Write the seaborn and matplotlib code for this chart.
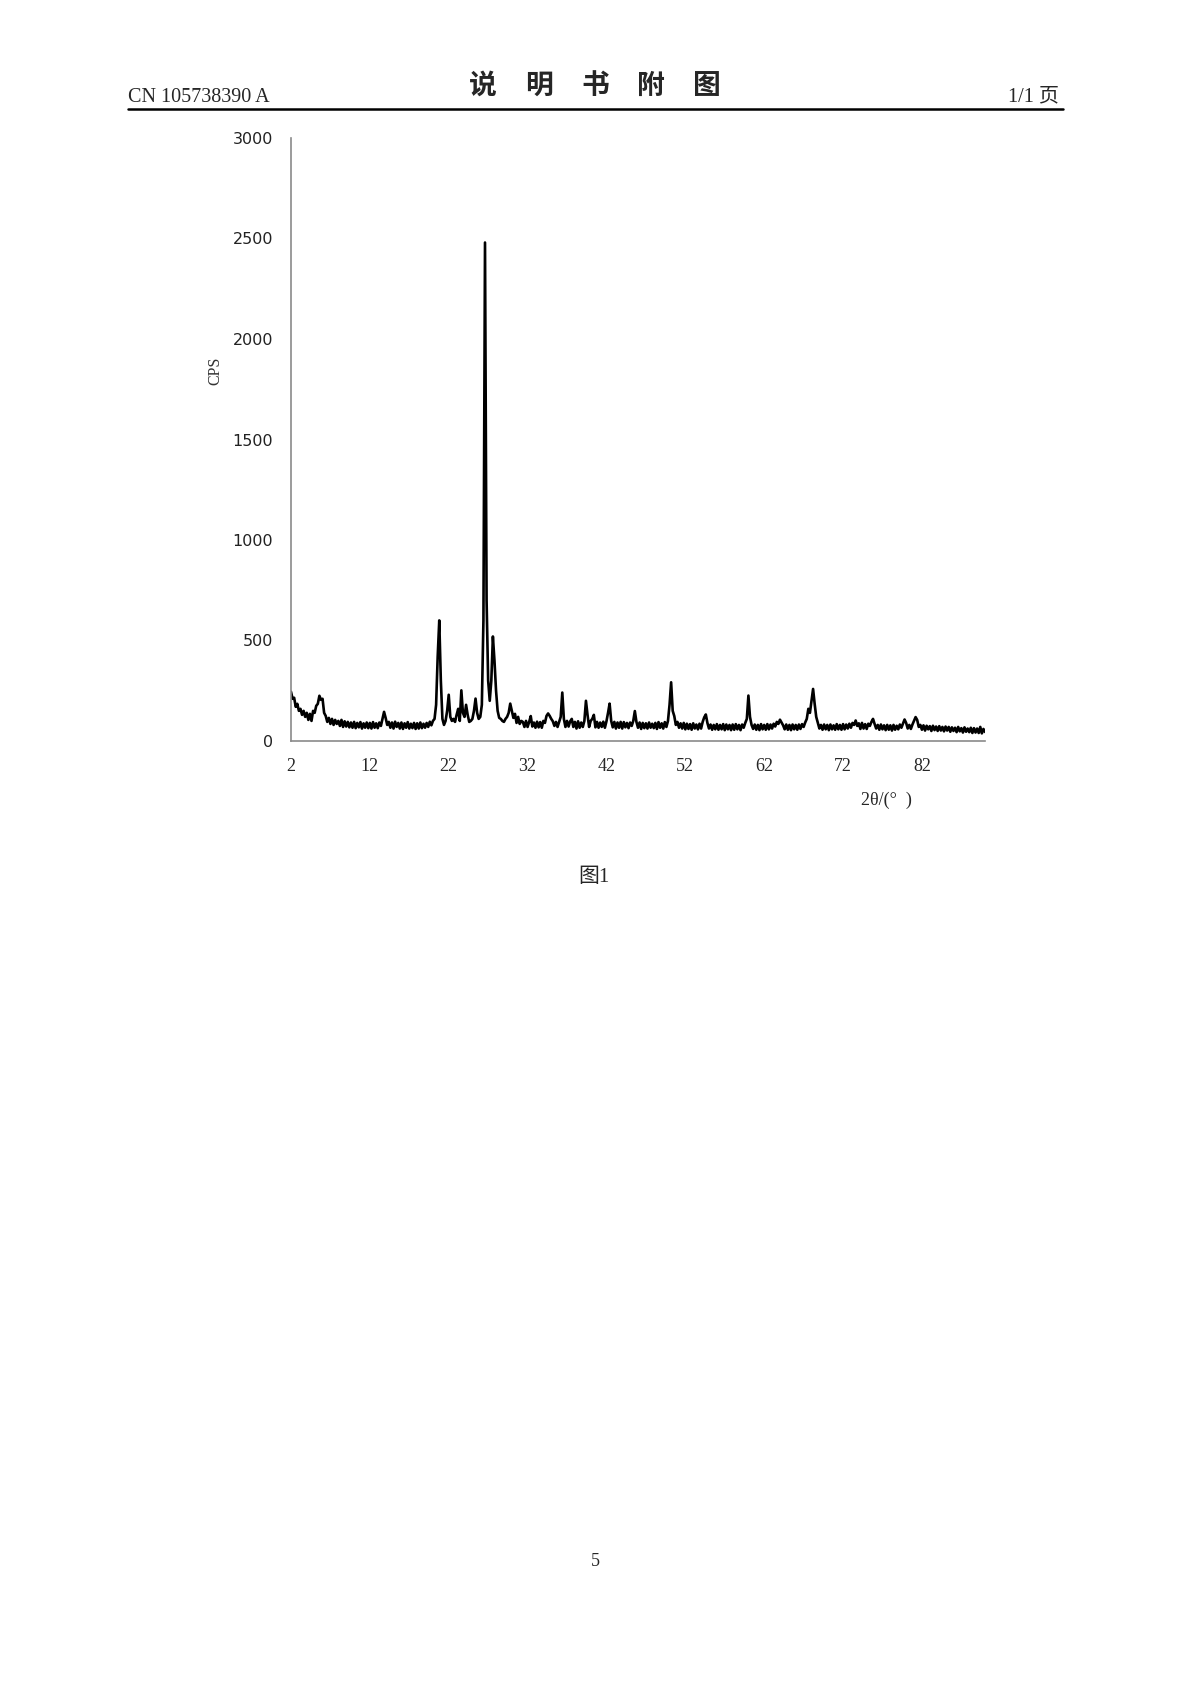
import numpy as np
import matplotlib
matplotlib.use('Agg')
from matplotlib import pyplot as plt
import seaborn as sns

# XRD pattern, every 0.2 deg (2 .. 90)
cps = [
    245, 210, 215, 170, 185, 150, 160, 130, 150, 120,   # 2
    140, 105, 135, 100, 150, 140, 175, 185, 225, 205,   # 4
    210, 140, 125, 95, 115, 85, 110, 80, 105, 85,       # 6
    100, 75, 105, 70, 98, 72, 95, 68, 92, 66,           # 8
    95, 64, 90, 68, 94, 62, 88, 66, 92, 64,             # 10
    90, 62, 94, 66, 88, 64, 92, 75, 110, 145,           # 12
    115, 80, 95, 66, 92, 62, 96, 70, 90, 62,            # 14
    92, 60, 88, 66, 94, 62, 86, 64, 90, 60,             # 16
    88, 62, 92, 64, 86, 66, 90, 70, 96, 78,             # 18
    100, 110, 180, 420, 600, 300, 110, 80, 100, 150,    # 20
    230, 120, 100, 110, 95, 130, 160, 100, 252, 140,    # 22
    120, 180, 130, 95, 100, 110, 150, 211, 140, 110,    # 24
    120, 180, 600, 2480, 700, 300, 200, 300, 520, 400,  # 26
    250, 150, 115, 110, 100, 95, 110, 120, 140, 186,    # 28
    150, 115, 135, 90, 120, 85, 100, 95, 70, 100,       # 30
    70, 95, 124, 72, 92, 66, 96, 68, 94, 66,            # 32
    100, 90, 125, 137, 125, 110, 98, 75, 95, 70,        # 34
    95, 120, 241, 110, 70, 100, 72, 98, 110, 70,        # 36
    95, 62, 98, 66, 92, 70, 100, 200, 130, 70,          # 38
    100, 110, 130, 68, 95, 66, 92, 70, 96, 66,          # 40
    98, 140, 186, 100, 68, 95, 62, 92, 66, 95,          # 42
    62, 94, 68, 90, 64, 92, 75, 100, 149, 95,           # 44
    66, 92, 60, 90, 64, 88, 62, 92, 66, 86,             # 46
    64, 90, 60, 94, 66, 88, 62, 94, 70, 100,            # 48
    180, 292, 150, 124, 80, 95, 66, 88, 62, 90,         # 50
    58, 86, 60, 84, 56, 88, 62, 82, 58, 86,             # 52
    62, 95, 118, 132, 90, 62, 82, 56, 80, 58,           # 54
    84, 56, 80, 58, 84, 54, 82, 58, 80, 54,             # 56
    82, 56, 84, 58, 80, 54, 82, 66, 90, 110,            # 58
    226, 120, 80, 60, 82, 56, 80, 54, 84, 58,           # 60
    80, 56, 84, 58, 82, 62, 86, 72, 95, 85,             # 62
    106, 92, 78, 58, 82, 56, 80, 54, 82, 58,            # 64
    80, 56, 82, 60, 84, 70, 92, 110, 160, 140,          # 66
    200, 259, 185, 120, 90, 62, 80, 56, 82, 58,         # 68
    80, 54, 82, 58, 78, 56, 84, 58, 80, 56,             # 70
    84, 58, 82, 62, 86, 66, 90, 80, 102, 75,            # 72
    88, 60, 90, 62, 84, 60, 86, 75, 95, 110,            # 74
    85, 62, 80, 56, 82, 58, 78, 54, 80, 56,             # 76
    78, 52, 80, 56, 76, 58, 82, 66, 86, 107,            # 78
    90, 62, 80, 60, 82, 100, 119, 105, 70, 80,          # 80
    56, 78, 52, 76, 58, 74, 50, 76, 54, 72,             # 82
    50, 74, 52, 70, 48, 72, 52, 70, 46, 68,             # 84
    50, 66, 44, 70, 48, 64, 42, 68, 46, 62,             # 86
    44, 66, 40, 64, 42, 62, 40, 70, 38, 60,             # 88
    45,                                                 # 90
]
theta = np.round(np.arange(2, 90.01, 0.2), 1)

x_ticks = [2, 12, 22, 32, 42, 52, 62, 72, 82]
y_ticks = [0, 500, 1000, 1500, 2000, 2500, 3000]
title_chars = ['说', '明', '书', '附', '图']

sns.set_style('white')
plt.rcParams['font.family'] = ['Liberation Serif', 'Noto Sans CJK SC', 'DejaVu Sans']

W, H = 1190, 1684
fig = plt.figure(figsize=(W / 100, H / 100), dpi=100)
fig.patch.set_facecolor('white')

# page header
fig.text(128 / W, 1 - 97 / H, 'CN 105738390 A', fontsize=14.5, ha='left', va='center')
for i, ch in enumerate(title_chars):
    fig.text((483 + i * 56) / W, 1 - 86 / H, ch, fontsize=20, ha='center', va='center',
             family=['Noto Sans CJK SC'], fontweight='bold')
fig.text(1059 / W, 1 - 97 / H, '1/1 页', fontsize=14.5, ha='right', va='center')
fig.add_artist(plt.Line2D([128 / W, 1063 / W], [1 - 109 / H, 1 - 109 / H], color='black', lw=1.8))

ax = fig.add_axes([291 / W, 1 - 741 / H, (985 - 291) / W, (741 - 138) / H])
sns.lineplot(x=theta, y=cps, color='black', linewidth=1.9, ax=ax)

ax.set_xlim(2, 90)
ax.set_ylim(0, 3000)
ax.set_xticks(x_ticks)
ax.set_yticks(y_ticks)
for s in ['top', 'right']:
    ax.spines[s].set_visible(False)
for s in ['left', 'bottom']:
    ax.spines[s].set_color('#8a8a8a')
    ax.spines[s].set_linewidth(1.2)
ax.tick_params(axis='both', direction='out', length=5, width=1.2, color='#8a8a8a')
ax.tick_params(axis='y', pad=8, labelsize=11.5)
ax.tick_params(axis='x', pad=7, labelsize=13)
for lab in ax.get_yticklabels():
    lab.set_family('DejaVu Sans')
    lab.set_color('#222222')

fig.text(215 / W, 1 - 371 / H, 'CPS', fontsize=11.5, rotation=90, ha='center', va='center',
         color='#333333')
fig.text(886 / W, 1 - 800 / H, '2θ/(°  )', fontsize=13, ha='center', va='center')

fig.text(594 / W, 1 - 878 / H, '图1', fontsize=15, ha='center', va='center')
fig.text(595 / W, 1 - 1561 / H, '5', fontsize=13, ha='center', va='center')

fig.savefig('out.png', dpi=100, facecolor='white')
